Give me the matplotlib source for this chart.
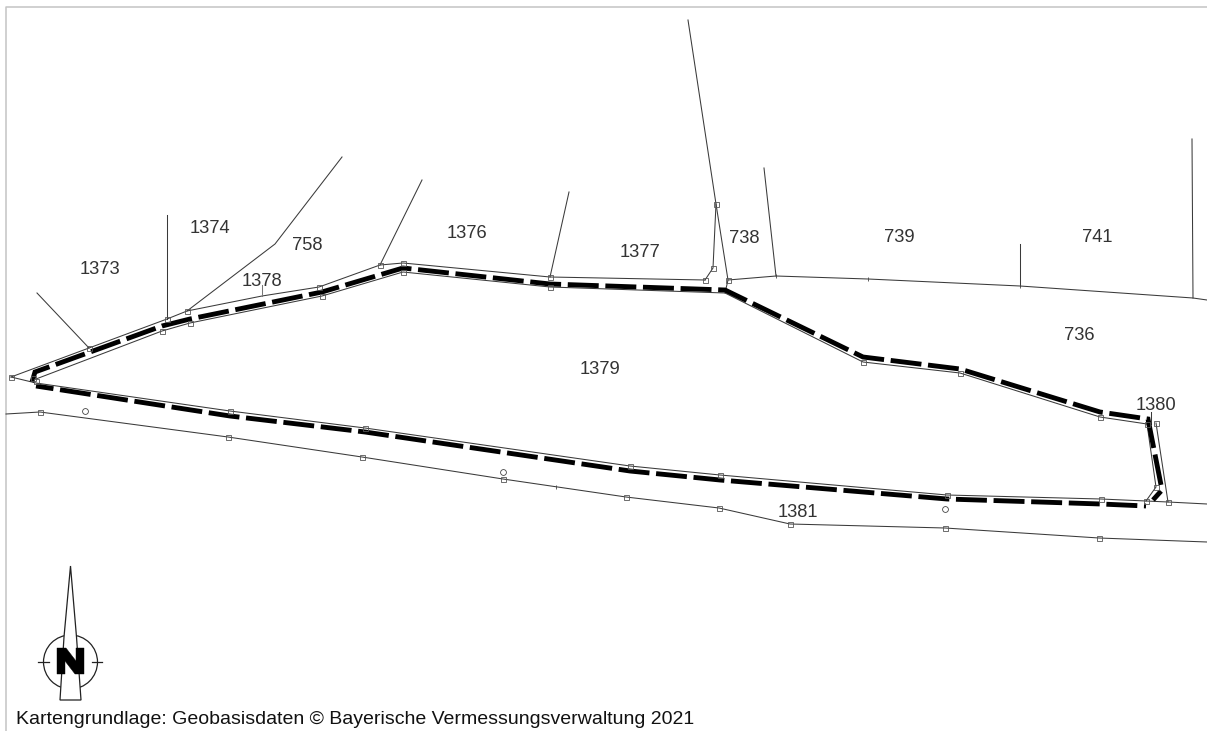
import matplotlib
matplotlib.use("Agg")
import matplotlib.pyplot as plt
from matplotlib.patches import Circle, Polygon

W, H = 1207, 731

# Map geometry (image pixel coordinates)
outer_top = [(11,377),(89,348),(167,319),(187,311),(262,296),(319,287),(380,265),(403,263),(550,277),(705,280)]
inner_line = [(36,379),(162,331),(190,323),(322,296),(403,272),(550,287),(725,293),(863,362),(960,373),(1100,417),(1147,424),(1156,487),(1146,501)]
outer_bottom = [(11,377),(36,383),(230,411),(365,428),(630,466),(720,475),(947,495),(1101,499),(1146,501),(1168,502),(1207,504)]
right_edge = [(1156,423),(1168,502)]
lower_road = [(6,414),(40,412),(228,437),(362,457),(503,479),(626,497),(719,508),(790,524),(945,528),(1099,538),(1207,542)]
side_lines = [
    [(37,293),(89,348)],
    [(167,215),(167,319)],
    [(342,157),(275,244),(187,311)],
    [(422,180),(380,265)],
    [(569,192),(550,277)],
    [(688,20),(716,204),(728,280),(725,293)],
    [(716,204),(713,268),(705,280)],
    [(764,168),(776,276)],
    [(728,280),(776,276),(868,279),(1020,286),(1193,298),(1207,300)],
    [(1020,244),(1020,286)],
    [(1192,139),(1193,298)],
    [(1151,412),(1151,424)],
]
grey_lines = [[(262,285),(262,296)]]
dashed_top = [(32,382),(35,372),(162,326),(190,319),(322,292),(403,268),(550,284),(725,290),(863,357),(960,369),(1100,412),(1148,419),(1162,490),(1153,500)]
dashed_bottom = [(36,386),(230,416),(365,432),(630,471),(720,480),(947,499),(1101,504),(1146,506)]
nodes = [(11,377),(36,381),(33,378),(89,348),(162,331),(167,319),(187,311),(190,323),(319,287),(322,296),
         (380,265),(403,263),(403,272),(550,277),(550,287),(705,280),(713,268),(716,204),(728,280),(863,362),
         (960,373),(1100,417),(1147,424),(1156,423),(1156,487),(1146,501),(1168,502),(1101,499),(947,495),
         (720,475),(630,466),(365,428),(230,411),(40,412),(228,437),(362,457),(503,479),(626,497),(719,508),
         (790,524),(945,528),(1099,538)]
circles = [(85,411),(503,472),(945,509)]
small_ticks = [(868,279),(1020,286),(776,276),(556,487)]

labels = [(100,269,"1373"),(210,228,"1374"),(307,245,"758"),(262,281,"1378"),(467,233,"1376"),(640,252,"1377"),
          (744,238,"738"),(899,237,"739"),(1097,237,"741"),(1079,335,"736"),(1156,405,"1380"),(600,369,"1379"),(798,512,"1381")]
footer = "Kartengrundlage: Geobasisdaten © Bayerische Vermessungsverwaltung 2021"

compass_needle = [(70.5,566),(64,637),(60,700),(81,700),(76.5,637)]
compass_letter = [(57,648),(57,674),(65,674),(65,661),(75,674),(84,674),(84,648),(76,648),(76,661),(66,648)]

plt.rcParams['font.family'] = ['Liberation Sans', 'DejaVu Sans']
fig = plt.figure(figsize=(W/100, H/100), dpi=100, facecolor="white")
ax = fig.add_axes([0, 0, 1, 1])
ax.set_xlim(0, W); ax.set_ylim(H, 0); ax.axis("off")

def draw(pts, **kw):
    ax.plot([p[0] for p in pts], [p[1] for p in pts], **kw)

# Sheet border
draw([(6,731),(6,7),(1207,7)], color="#c4c4c4", lw=1.1)

for pts in [outer_top, inner_line, outer_bottom, right_edge, lower_road] + side_lines:
    draw(pts, color="#3a3a3a", lw=0.75, solid_joinstyle="miter")
for pts in grey_lines:
    draw(pts, color="#777777", lw=0.75)

draw(dashed_top, color="black", lw=3.5, ls=(1.06, (6.37, 1.37)), dash_capstyle="butt", dash_joinstyle="miter")
draw(dashed_bottom, color="black", lw=3.5, ls=(2.74, (6.37, 1.37)), dash_capstyle="butt", dash_joinstyle="miter")

draw(nodes, ls="none", marker="s", ms=3.6, mfc="none", mec="#555555", mew=0.6)
draw(small_ticks, ls="none", marker="|", ms=3, mec="#444444", mew=0.6)
draw(circles, ls="none", marker="o", ms=4.2, mfc="white", mec="#444444", mew=0.6)

for x, y, s in labels:
    ax.text(x, y + 0.7, s, fontsize=13.2, color="#333333", ha="center", va="center")
ax.text(16, 719, footer, fontsize=14.03, color="#111111", ha="left", va="center")

# North arrow
ax.add_patch(Circle((70.5,662), 27, fc="none", ec="#222222", lw=0.9))
draw([(38,662),(49,662)], color="#222222", lw=0.9)
draw([(92,662),(102,662)], color="#222222", lw=0.9)
ax.add_patch(Polygon(compass_needle, closed=True, fc="white", ec="#222222", lw=0.9, zorder=3))
ax.add_patch(Polygon(compass_letter, closed=True, fc="black", ec="black", lw=0.3, zorder=4))

fig.savefig("out.png", dpi=100, facecolor="white")
